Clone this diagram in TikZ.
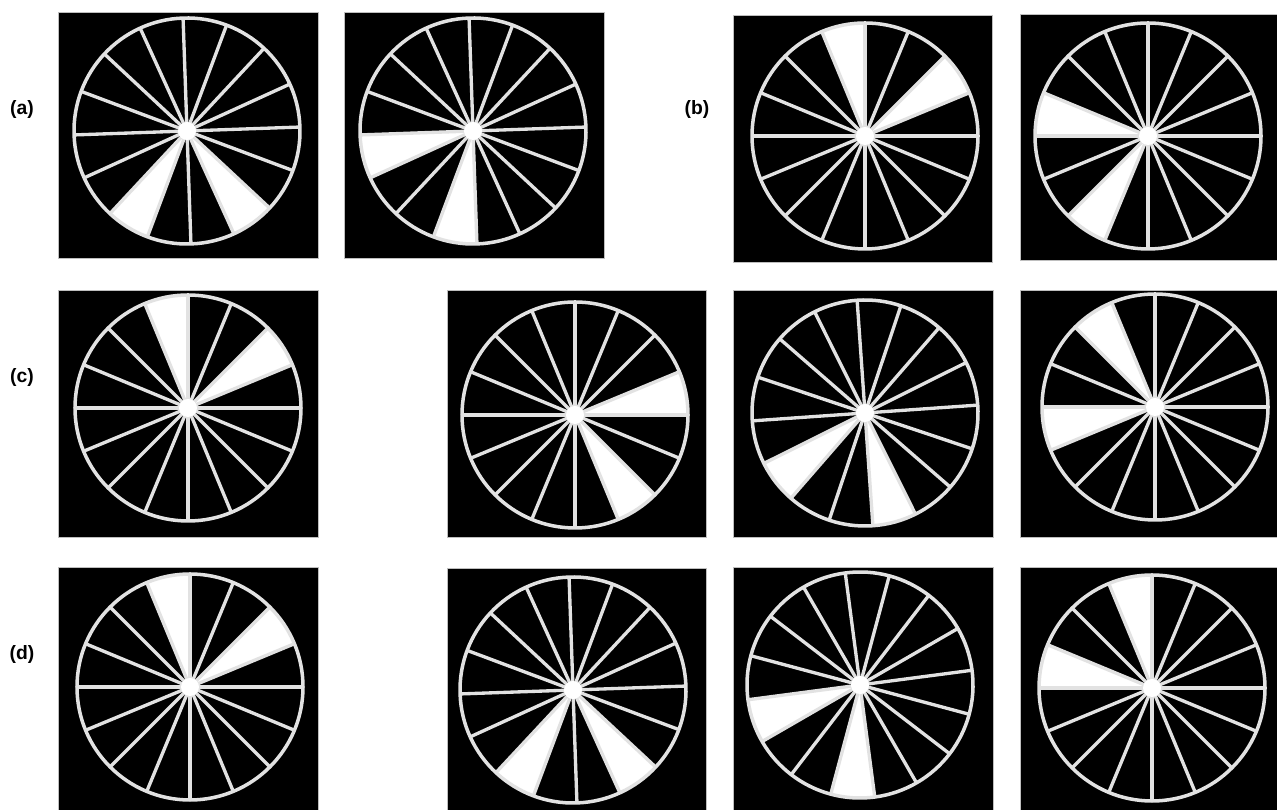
\documentclass[tikz,border=0pt]{standalone}
\usepackage{fontspec}
\setsansfont{Liberation Sans}
\usepackage{tikz}
\usetikzlibrary{positioning}
\definecolor{spokegray}{RGB}{226, 226, 226}
\definecolor{panelline}{RGB}{190, 190, 190}
\tikzset{
  font=\sffamily\bfseries,
  panelbox/.style={fill=black, draw=panelline, line width=0.3pt},
  spokeline/.style={draw=spokegray, line width=1.9pt},
  rimline/.style={draw=spokegray, line width=2pt},
  wedgefill/.style={fill=white},
  hubdot/.style={fill=white},
  rowlabel/.style={font=\sffamily\bfseries\fontsize{11}{13}\selectfont, inner sep=0pt}
}
\newcommand{\wheelr}{113}
% #1 box corner, #2 opposite corner, #3 hub, #4 rotation, #5 #6 white sectors
\newcommand{\wheelpanel}[6]{%
  \path[panelbox] #1 rectangle #2;
  \begin{scope}[shift={#3}, rotate=#4]
    \foreach \s in {#5,#6}
      \fill[wedgefill] (0,0) -- (\s*22.5:\wheelr)
        arc[start angle=\s*22.5, end angle=\s*22.5+22.5, radius=\wheelr] -- cycle;
    \foreach \k in {0,...,15}
      \draw[spokeline] (0,0) -- (\k*22.5:\wheelr);
    \draw[rimline] (0,0) circle[radius=\wheelr];
    \fill[hubdot] (0,0) circle[radius=9];
  \end{scope}
}

\begin{document}
\begin{tikzpicture}[x=0.02cm, y=0.02cm]
  \useasboundingbox (0,0) rectangle (1277,810);

  % Row labels
  \node[rowlabel] (lbla) at (22,700) {(a)};
  \node[rowlabel] (lblb) at (697,700) {(b)};
  \node[rowlabel] (lblc) at (22,432) {(c)};
  \node[rowlabel] (lbld) at (22,155) {(d)};

  % Row 1: (a) and (b)
  \wheelpanel{(58,552)}{(318,798)}{(187,679)}{2}{10}{13}
  \wheelpanel{(344,552)}{(604,798)}{(473,679)}{2}{8}{11}
  \wheelpanel{(733,548)}{(992,795)}{(865,674)}{0}{1}{4}
  \wheelpanel{(1020,550)}{(1277,796)}{(1148,674)}{0}{7}{10}

  % Row 2: (c)
  \wheelpanel{(58,273)}{(318,520)}{(188,402)}{0}{1}{4}
  \wheelpanel{(447,273)}{(706,520)}{(575,395)}{0}{0}{13}
  \wheelpanel{(733,273)}{(993,520)}{(865,397)}{4}{9}{12}
  \wheelpanel{(1020,273)}{(1277,520)}{(1155,403)}{0}{5}{8}

  % Row 3: (d)
  \wheelpanel{(58,0)}{(318,243)}{(190,123)}{0}{1}{4}
  \wheelpanel{(447,0)}{(706,242)}{(573,120)}{2}{10}{13}
  \wheelpanel{(733,0)}{(993,243)}{(860,125)}{7.5}{8}{11}
  \wheelpanel{(1020,0)}{(1277,243)}{(1152,122)}{0}{4}{7}

\end{tikzpicture}
\end{document}
